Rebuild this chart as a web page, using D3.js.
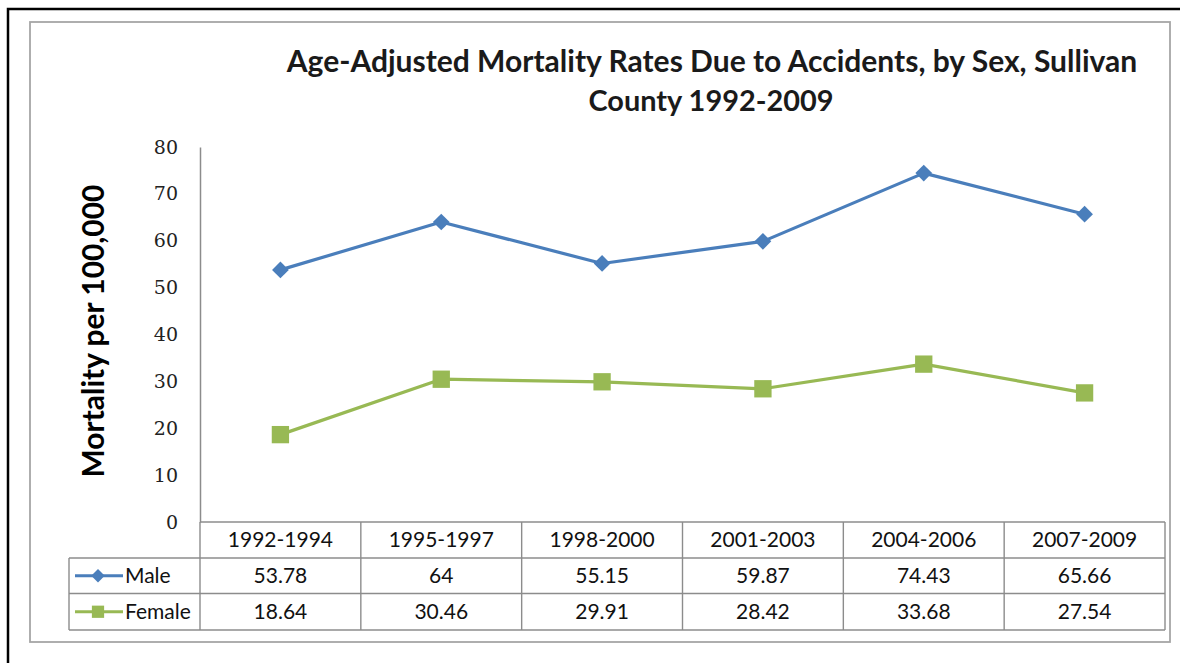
<!DOCTYPE html>
<html><head><meta charset="utf-8">
<script src="https://cdn.jsdelivr.net/npm/d3@7"></script>
<style>html,body{margin:0;padding:0;background:#fff;}svg{display:block;}</style>
</head><body>
<svg id="c" width="1180" height="663"></svg>
<script>
const categories = ["1992-1994","1995-1997","1998-2000","2001-2003","2004-2006","2007-2009"];
const maleValues = [53.78, 64, 55.15, 59.87, 74.43, 65.66];
const femaleValues = [18.64, 30.46, 29.91, 28.42, 33.68, 27.54];
const maleLabels = ["53.78","64","55.15","59.87","74.43","65.66"];
const femaleLabels = ["18.64","30.46","29.91","28.42","33.68","27.54"];
const yTicks = [0,10,20,30,40,50,60,70,80];
const titleLines = ["Age-Adjusted Mortality Rates Due to Accidents, by Sex, Sullivan","County 1992-2009"];
const yTitle = "Mortality per 100,000";
const series = [
  {name:"Male", values:maleValues, labels:maleLabels, color:"#4a7ebb", marker:"diamond"},
  {name:"Female", values:femaleValues, labels:femaleLabels, color:"#98b954", marker:"square"}
];

const svg = d3.select("#c");
const sans = "Lato, 'Open Sans', sans-serif";
const serif = "'DejaVu Serif', 'Liberation Serif', serif";

function fit(sel, target){
  const w = sel.node().getComputedTextLength();
  const fs = parseFloat(sel.attr("font-size"));
  sel.attr("font-size", fs*target/w);
}
function markerPath(kind, big){
  if (kind === "diamond") return d3.symbol().type(d3.symbolSquare).size(big?140:90)();
  return d3.symbol().type(d3.symbolSquare).size(big?300:150)();
}
function markerRot(kind){ return kind === "diamond" ? " rotate(45)" : ""; }

svg.append("rect").attr("x",8).attr("y",9).attr("width",1200).attr("height",700)
  .attr("fill","none").attr("stroke","#000").attr("stroke-width",2.5);
svg.append("rect").attr("x",30).attr("y",22).attr("width",1140).attr("height",620)
  .attr("fill","none").attr("stroke","#a6a6a6").attr("stroke-width",1.8);

const x0 = 200, x1 = 1165;
const x = d3.scaleBand().domain(categories).range([x0,x1]);
const y = d3.scaleLinear().domain([0,80]).range([522,147]);

const t1 = svg.append("text").attr("x",712).attr("y",72).attr("text-anchor","middle")
  .attr("font-family",sans).attr("font-weight",700).attr("font-size",26).attr("fill","#1a1a1a").text(titleLines[0]);
fit(t1, 851);
const t2 = svg.append("text").attr("x",711).attr("y",111).attr("text-anchor","middle")
  .attr("font-family",sans).attr("font-weight",700).attr("font-size",26).attr("fill","#1a1a1a").text(titleLines[1]);
fit(t2, 245);

const yt = svg.append("text").attr("transform","translate(104,331) rotate(-90)").attr("text-anchor","middle")
  .attr("font-family",sans).attr("font-weight",700).attr("font-size",24).attr("fill","#000").text(yTitle);
fit(yt, 293);

const yAxis = d3.axisLeft(y).tickValues(yTicks).tickSize(0).tickPadding(22);
const ga = svg.append("g").attr("transform",`translate(${x0},0)`).call(yAxis);
ga.select(".domain").attr("stroke","#8c8c8c").attr("stroke-width",1.5);
ga.selectAll("text").attr("font-family",serif).attr("font-size",19).attr("fill","#222").attr("dy","0.32em");

const rowTop = 522, rowH = [36,35.5,36.5];
const rows = [rowTop, rowTop+rowH[0], rowTop+rowH[0]+rowH[1], rowTop+rowH[0]+rowH[1]+rowH[2]];
const grid = svg.append("g").attr("stroke","#8c8c8c").attr("stroke-width",1.4).attr("fill","none");
grid.append("line").attr("x1",x0).attr("x2",x1).attr("y1",rows[0]).attr("y2",rows[0]);
[1,2,3].forEach(i=>grid.append("line").attr("x1",69).attr("x2",x1).attr("y1",rows[i]).attr("y2",rows[i]));
grid.append("line").attr("x1",69).attr("x2",69).attr("y1",rows[1]).attr("y2",rows[3]);
categories.forEach(c=>grid.append("line").attr("x1",x(c)).attr("x2",x(c)).attr("y1",rows[0]).attr("y2",rows[3]));
grid.append("line").attr("x1",x1).attr("x2",x1).attr("y1",rows[0]).attr("y2",rows[3]);

const tfs = 21;
categories.forEach(c=>{
  svg.append("text").attr("x",x(c)+x.bandwidth()/2).attr("y",(rows[0]+rows[1])/2).attr("dy","0.35em")
    .attr("text-anchor","middle").attr("font-family",sans).attr("font-size",tfs).attr("fill","#111").text(c);
});
series.forEach((s,si)=>{
  const cy = (rows[si+1]+rows[si+2])/2;
  s.labels.forEach((l,i)=>{
    svg.append("text").attr("x",x(categories[i])+x.bandwidth()/2).attr("y",cy).attr("dy","0.35em")
      .attr("text-anchor","middle").attr("font-family",sans).attr("font-size",tfs).attr("fill","#111").text(l);
  });
  svg.append("line").attr("x1",75).attr("x2",123).attr("y1",cy).attr("y2",cy)
    .attr("stroke",s.color).attr("stroke-width",3);
  svg.append("path").attr("d",markerPath(s.marker,false))
    .attr("transform",`translate(98,${cy})${markerRot(s.marker)}`).attr("fill",s.color);
  svg.append("text").attr("x",125).attr("y",cy).attr("dy","0.35em").attr("font-family",sans)
    .attr("font-size",tfs).attr("fill","#111").text(s.name);
});

const line = d3.line().x((d,i)=>x(categories[i])+x.bandwidth()/2).y(d=>y(d));
series.forEach((s)=>{
  svg.append("path").datum(s.values).attr("d",line).attr("fill","none")
    .attr("stroke",s.color).attr("stroke-width",3.2).attr("stroke-linejoin","round");
  svg.selectAll(null).data(s.values).enter().append("path")
    .attr("d",markerPath(s.marker,true))
    .attr("transform",(d,i)=>`translate(${x(categories[i])+x.bandwidth()/2},${y(d)})${markerRot(s.marker)}`)
    .attr("fill",s.color);
});
</script>
</body></html>
